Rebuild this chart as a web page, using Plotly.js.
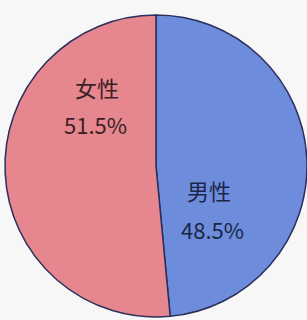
<!DOCTYPE html>
<html><head><meta charset="utf-8">
<script src="https://cdn.plot.ly/plotly-3.0.1.min.js"></script>
<style>html,body{margin:0;padding:0;background:#f7f7f7;}</style>
</head><body>
<div id="chart" style="width:307px;height:320px;"></div>
<script>
const categories = ['男性', '女性'];
const values = [48.5, 51.5];
const percentLabels = ['48.5%', '51.5%'];
const colors = ['#6d8cdb', '#e6868f'];

const W = 307, H = 320;
const cx = 157, cy = 166, r = 152;

const trace = {
  type: 'pie',
  labels: categories,
  values: values,
  sort: false,
  direction: 'clockwise',
  rotation: 0,
  textinfo: 'none',
  hoverinfo: 'label+percent',
  marker: {colors: colors, line: {color: '#2b2f5c', width: 1.5}},
  domain: {x: [(cx - r) / W, (cx + r) / W], y: [(H - cy - r) / H, (H - cy + r) / H]},
  showlegend: false
};

const labelPos = [[209, 190, 212, 229], [97, 87, 95, 124]];
const txtColors = ['#1c2548', '#3a1f24'];
const annotations = [];
categories.forEach((c, i) => {
  const p = labelPos[i];
  annotations.push({x: p[0] / W, y: 1 - p[1] / H, xref: 'paper', yref: 'paper', xanchor: 'center', yanchor: 'middle',
    text: c, showarrow: false, font: {family: 'Noto Sans CJK SC', size: 22, color: txtColors[i]}});
  annotations.push({x: p[2] / W, y: 1 - p[3] / H, xref: 'paper', yref: 'paper', xanchor: 'center', yanchor: 'middle',
    text: percentLabels[i], showarrow: false, font: {family: 'Noto Sans CJK SC', size: 22, color: txtColors[i]}});
});

Plotly.newPlot('chart', [trace], {
  width: W, height: H,
  margin: {l: 0, r: 0, t: 0, b: 0},
  paper_bgcolor: '#f7f7f7',
  annotations: annotations
}, {displayModeBar: false, staticPlot: true});
</script>
</body></html>
